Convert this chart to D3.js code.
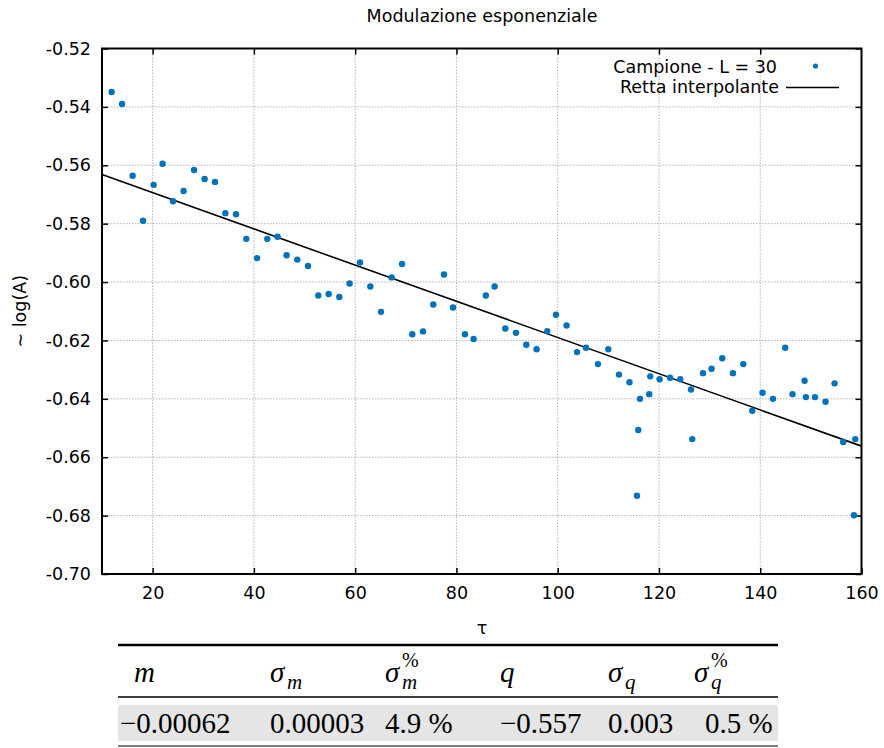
<!DOCTYPE html>
<html>
<head>
<meta charset="utf-8">
<script src="https://cdn.jsdelivr.net/npm/d3@7"></script>
<style>
  body { margin: 0; background: #fff; }
  svg { display: block; }
</style>
</head>
<body>
<svg id="chart" width="884" height="748"></svg>
<script>
// sample: tau and ~log(A)
var tauValues = [11.90, 13.96, 16.05, 18.10, 20.20, 21.97, 24.03, 26.12, 28.18, 30.27,
    32.32, 34.36, 36.47, 38.50, 40.62, 42.65, 44.68, 46.46, 48.57, 50.69,
    52.72, 54.76, 56.87, 58.90, 60.96, 62.99, 65.10, 67.20, 69.25, 71.28,
    73.40, 75.43, 77.54, 79.32, 81.69, 83.39, 85.80, 87.54, 89.65, 91.76,
    93.80, 95.83, 97.94, 99.66, 101.75, 103.81, 105.58, 107.95, 109.99, 112.10,
    114.18, 115.91, 115.65, 116.25, 118.08, 118.28, 120.12, 122.19, 124.20, 126.32,
    126.58, 128.69, 130.39, 132.50, 134.61, 136.65, 138.42, 140.46, 142.51, 144.94,
    146.38, 148.75, 149.03, 150.81, 152.90, 154.68, 156.39, 158.77, 158.51];
var logAValues = [-0.5349, -0.5390, -0.5636, -0.5790, -0.5667, -0.5595, -0.5723, -0.5688, -0.5616, -0.5647,
    -0.5657, -0.5764, -0.5768, -0.5852, -0.5918, -0.5852, -0.5845, -0.5908, -0.5923, -0.5945,
    -0.6046, -0.6041, -0.6051, -0.6005, -0.5933, -0.6015, -0.6102, -0.5984, -0.5938, -0.6179,
    -0.6169, -0.6077, -0.5974, -0.6087, -0.6179, -0.6195, -0.6046, -0.6015, -0.6159, -0.6174,
    -0.6215, -0.6230, -0.6168, -0.6112, -0.6149, -0.6240, -0.6225, -0.6281, -0.6230, -0.6317,
    -0.6343, -0.6507, -0.6732, -0.6400, -0.6384, -0.6323, -0.6333, -0.6328, -0.6333, -0.6368,
    -0.6538, -0.6312, -0.6297, -0.6261, -0.6312, -0.6281, -0.6441, -0.6379, -0.6400, -0.6225,
    -0.6384, -0.6338, -0.6394, -0.6394, -0.6410, -0.6347, -0.6548, -0.6538, -0.6799];

// fitted line y = m*x + q
var fitM = -0.00062;
var fitQ = -0.557;

var xDomain = [10, 160];
var yDomain = [-0.70, -0.52];
var xTicks = [20, 40, 60, 80, 100, 120, 140, 160];
var yTicks = [-0.70, -0.68, -0.66, -0.64, -0.62, -0.60, -0.58, -0.56, -0.54, -0.52];

// results table
var tableValues = ["\u22120.00062", "0.00003", "4.9 %", "\u22120.557", "0.003", "0.5 %"];

var svg = d3.select("#chart");
var margin = {top: 48.5, right: 22.5, bottom: 174, left: 102},
    width = 884 - margin.left - margin.right,
    height = 748 - margin.top - margin.bottom,
    g = svg.append("g").attr("transform", "translate(" + margin.left + "," + margin.top + ")");

var x = d3.scaleLinear().domain(xDomain).range([0, width]);
var y = d3.scaleLinear().domain(yDomain).range([height, 0]);

var sans = "'DejaVu Sans', sans-serif";
var fontSize = "17.5px";
var dotColor = "#0072bd";

// grid
var innerX = xTicks.filter(function(d) { return d > xDomain[0] && d < xDomain[1]; });
var innerY = yTicks.filter(function(d) { return d > yDomain[0] + 1e-9 && d < yDomain[1] - 1e-9; });

g.append("g").selectAll("line").data(innerX).enter().append("line")
    .attr("x1", function(d) { return x(d); }).attr("x2", function(d) { return x(d); })
    .attr("y1", 0).attr("y2", height)
    .attr("stroke", "#b4b4b4").attr("stroke-width", 1).attr("stroke-dasharray", "1.5,1.5");
g.append("g").selectAll("line").data(innerY).enter().append("line")
    .attr("y1", function(d) { return y(d); }).attr("y2", function(d) { return y(d); })
    .attr("x1", 0).attr("x2", width)
    .attr("stroke", "#b4b4b4").attr("stroke-width", 1).attr("stroke-dasharray", "1.5,1.5");

// axes, ticks inward on all four sides
function styleAxis(sel) {
    sel.select(".domain").remove();
    sel.selectAll(".tick line").attr("stroke", "#000").attr("stroke-width", 1.5);
    sel.selectAll("text").attr("fill", "#000").style("font-family", sans).style("font-size", fontSize);
}

g.append("g")
    .attr("transform", "translate(0," + height + ")")
    .call(d3.axisBottom(x).tickValues(xTicks).tickSize(-6).tickPadding(13).tickFormat(d3.format("d")))
    .call(styleAxis);
g.append("g")
    .call(d3.axisTop(x).tickValues(innerX).tickSize(-6).tickFormat(""))
    .call(styleAxis);
g.append("g")
    .call(d3.axisLeft(y).tickValues(yTicks).tickSize(-6).tickPadding(11)
        .tickFormat(function(d) { return d.toFixed(2); }))
    .call(styleAxis);
g.append("g")
    .attr("transform", "translate(" + width + ",0)")
    .call(d3.axisRight(y).tickValues(yTicks).tickSize(-6).tickFormat(""))
    .call(styleAxis);

// fitted line
var line = d3.line()
    .x(function(d) { return x(d); })
    .y(function(d) { return y(fitM * d + fitQ); });

g.append("path")
    .datum(xDomain)
    .attr("fill", "none")
    .attr("stroke", "#000")
    .attr("stroke-width", 1.6)
    .attr("d", line);

// sample points
g.append("g").selectAll("circle")
    .data(tauValues)
    .enter().append("circle")
    .attr("cx", function(d) { return x(d); })
    .attr("cy", function(d, i) { return y(logAValues[i]); })
    .attr("r", 3.2)
    .attr("fill", dotColor);

// frame
g.append("rect")
    .attr("width", width).attr("height", height)
    .attr("fill", "none").attr("stroke", "#000").attr("stroke-width", 2);

// legend
var legend = g.append("g").style("font-family", sans).style("font-size", fontSize);
legend.append("text").attr("x", 675).attr("y", 24).attr("text-anchor", "end").text("Campione - L = 30");
legend.append("circle").attr("cx", 713.5).attr("cy", 17.5).attr("r", 2.6).attr("fill", dotColor);
legend.append("text").attr("x", 677).attr("y", 44.5).attr("text-anchor", "end").text("Retta interpolante");
legend.append("line").attr("x1", 684).attr("x2", 737).attr("y1", 39).attr("y2", 39)
    .attr("stroke", "#000").attr("stroke-width", 1.6);

// titles
svg.append("text")
    .attr("x", 482).attr("y", 22)
    .attr("text-anchor", "middle")
    .style("font-family", sans).style("font-size", fontSize)
    .text("Modulazione esponenziale");
svg.append("text")
    .attr("x", 482).attr("y", 634)
    .attr("text-anchor", "middle")
    .style("font-family", sans).style("font-size", fontSize)
    .text("\u03c4");
svg.append("text")
    .attr("transform", "translate(26," + (margin.top + height / 2) + ") rotate(-90)")
    .attr("text-anchor", "middle")
    .style("font-family", sans).style("font-size", fontSize)
    .text("\u223c log(A)");

// results table
var tbl = svg.append("g").style("font-family", "'Liberation Serif', serif");
var tLeft = 118, tRight = 778;

tbl.append("line").attr("x1", tLeft).attr("x2", tRight).attr("y1", 645).attr("y2", 645)
    .attr("stroke", "#000").attr("stroke-width", 2.5);
tbl.append("line").attr("x1", tLeft).attr("x2", tRight).attr("y1", 697).attr("y2", 697)
    .attr("stroke", "#000").attr("stroke-width", 1.5);
tbl.append("rect").attr("x", tLeft).attr("y", 705).attr("width", tRight - tLeft).attr("height", 36)
    .attr("fill", "#e5e5e5");
tbl.append("line").attr("x1", tLeft).attr("x2", tRight).attr("y1", 746).attr("y2", 746)
    .attr("stroke", "#555").attr("stroke-width", 1.5);

// header cells: symbol, subscript, superscript
var headCells = [
    {x: 134, s: "m", sub: "", sup: ""},
    {x: 270, s: "\u03c3", sub: "m", sup: ""},
    {x: 385, s: "\u03c3", sub: "m", sup: "%"},
    {x: 500, s: "q", sub: "", sup: ""},
    {x: 608, s: "\u03c3", sub: "q", sup: ""},
    {x: 694, s: "\u03c3", sub: "q", sup: "%"}
];
headCells.forEach(function(c) {
    var t = tbl.append("text").attr("x", c.x).attr("y", 682).style("font-size", "29px").style("font-style", "italic");
    t.text(c.s);
    var w = c.s === "m" ? 22 : 17;
    if (c.sub) {
        tbl.append("text").attr("x", c.x + w).attr("y", 689).style("font-size", "21px")
            .style("font-style", "italic").text(c.sub);
    }
    if (c.sup) {
        tbl.append("text").attr("x", c.x + w).attr("y", 667).style("font-size", "20px").text(c.sup);
    }
});

var valueX = [120, 270, 385, 500, 608, 705];
tbl.selectAll("text.val").data(tableValues).enter().append("text")
    .attr("class", "val")
    .attr("x", function(d, i) { return valueX[i]; })
    .attr("y", 733)
    .style("font-size", "29px")
    .text(function(d) { return d; });
</script>
</body>
</html>
